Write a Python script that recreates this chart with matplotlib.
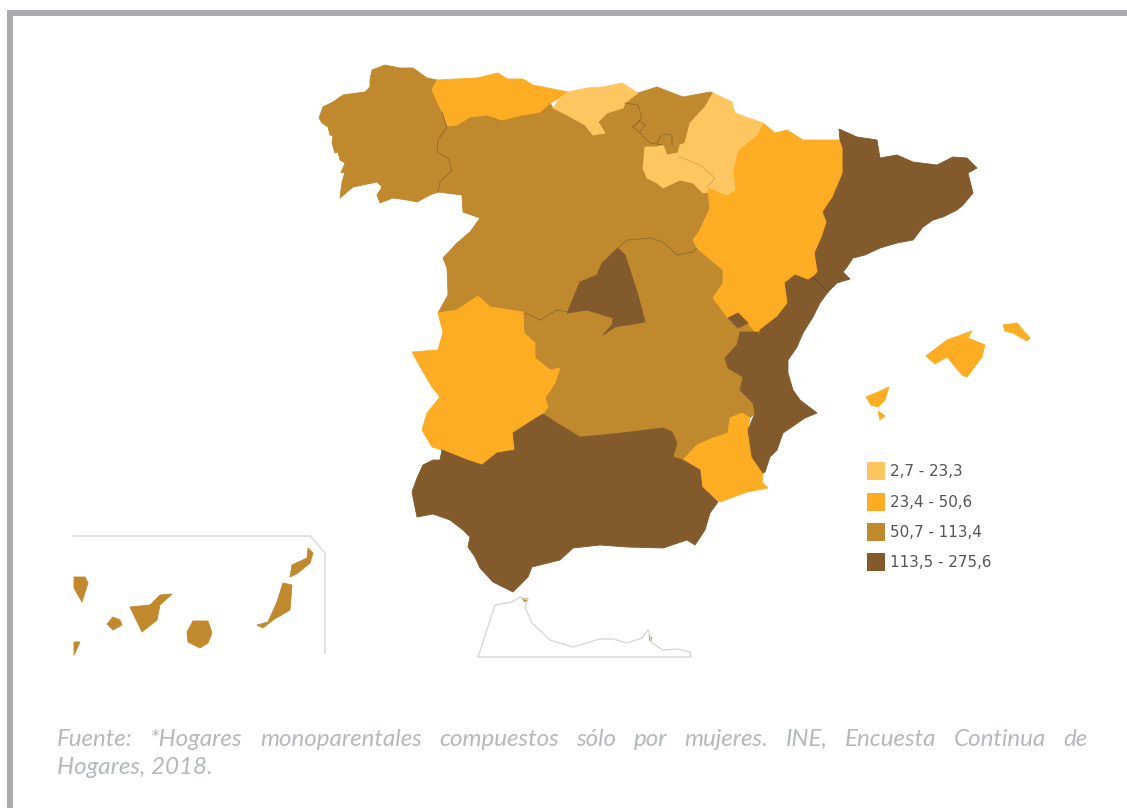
import matplotlib
matplotlib.use("Agg")
import matplotlib.pyplot as plt
from matplotlib.patches import Polygon, Rectangle

# Legend classes
legend_labels = ["2,7 - 23,3", "23,4 - 50,6", "50,7 - 113,4", "113,5 - 275,6"]
class_colors = ["#FEC660", "#FCAD23", "#C0892E", "#835A2B"]

source_lines = ["Fuente: *Hogares monoparentales compuestos sólo por mujeres. INE, Encuesta Continua de",
                "Hogares, 2018."]

# Region outlines (image coordinates)
galicia = [(385,65),(372,70),(370,80),(370,87),(365,92),(343,95),(333,102),(323,107),(319,118),(322,123),(328,127),(330,135),(333,136),(332,143),(335,153),(338,152),(340,160),(345,163),(341,173),(345,172),(342,182),(340,198),(353,187),(377,182),(382,187),(377,195),(380,203),(393,198),(407,200),(417,202),(430,195),(438,192),(440,182),(452,170),(448,158),(437,152),(438,140),(447,127),(442,112),(432,90),(437,80),(427,78),(413,68),(400,68),(390,66)]
asturias = [(432,90),(437,80),(477,78),(498,73),(507,79),(523,79),(533,85),(568,92),(560,98),(550,103),(540,112),(523,115),(502,120),(487,115),(470,117),(457,125),(448,126),(442,112)]
cantabria = [(568,92),(587,88),(603,87),(622,83),(638,93),(625,103),(623,108),(607,113),(598,122),(605,133),(593,135),(585,125),(567,115),(553,108),(560,98)]
pais_vasco = [(638,93),(657,87),(683,97),(710,92),(713,93),(705,107),(690,123),(685,143),(680,145),(678,153),(667,155),(663,145),(650,143),(640,133),(633,127),(642,118),(638,105),(625,103)]
navarra = [(713,93),(732,102),(735,113),(763,123),(757,135),(738,150),(733,170),(735,190),(727,195),(707,187),(715,178),(700,165),(680,157),(678,153),(680,145),(685,143),(690,123),(705,107)]
la_rioja = [(645,147),(657,147),(663,145),(667,155),(678,153),(680,157),(700,165),(715,178),(707,187),(708,192),(703,193),(693,183),(680,180),(663,188),(657,183),(647,178),(643,168)]
aragon = [(763,123),(775,133),(787,130),(803,140),(840,140),(843,148),(843,173),(833,197),(823,212),(827,222),(822,237),(815,253),(818,272),(808,280),(795,275),(785,283),(788,303),(777,317),(760,330),(759,337),(748,323),(738,313),(728,318),(713,298),(723,283),(723,270),(697,248),(693,240),(700,230),(710,208),(708,192),(707,187),(727,195),(735,190),(733,170),(738,150),(757,135)]
cataluna = [(839,129),(857,137),(877,140),(880,158),(897,155),(913,162),(937,165),(953,157),(967,158),(977,168),(968,173),(973,193),(963,205),(957,210),(943,217),(933,220),(923,227),(913,240),(897,243),(880,248),(865,255),(853,258),(847,267),(843,272),(850,279),(837,283),(828,292),(813,277),(818,272),(815,253),(822,237),(827,222),(823,212),(833,197),(843,173),(843,148),(840,140)]
valencia = [(795,275),(808,280),(813,277),(828,292),(820,303),(813,317),(803,333),(797,347),(788,360),(788,373),(793,390),(800,400),(817,413),(805,418),(783,433),(777,450),(770,457),(765,472),(763,473),(752,457),(748,430),(755,413),(753,403),(740,390),(743,377),(728,368),(725,358),(737,345),(740,332),(758,332),(759,337),(760,330),(777,317),(788,303),(785,283)]
ademuz = [(728,318),(738,313),(748,323),(738,328)]
murcia = [(742,413),(750,418),(748,430),(752,457),(763,473),(762,482),(768,488),(747,492),(720,502),(702,487),(700,470),(683,460),(697,445),(713,438),(728,433),(730,418)]
andalucia = [(442,450),(467,460),(482,465),(497,453),(515,450),(513,433),(530,422),(543,414),(560,425),(580,437),(603,435),(630,432),(663,428),(672,432),(677,443),(673,457),(683,460),(700,470),(702,487),(718,502),(710,513),(705,530),(695,545),(687,540),(663,548),(627,547),(600,545),(573,548),(560,560),(540,565),(532,567),(528,577),(522,583),(513,592),(493,582),(480,568),(475,557),(468,547),(470,537),(463,530),(450,520),(433,514),(417,517),(412,492),(417,478),(423,465),(433,460),(440,460)]
extremadura = [(478,296),(490,307),(523,312),(524,333),(535,343),(535,358),(550,370),(560,368),(555,383),(545,398),(548,407),(543,414),(530,422),(513,433),(515,450),(497,453),(482,465),(467,460),(442,450),(432,447),(422,430),(427,413),(440,397),(432,387),(422,370),(412,352),(438,350),(443,332),(438,313),(457,310)]
castilla_leon = [(448,126),(457,125),(470,117),(487,115),(502,120),(523,115),(540,112),(550,103),(553,108),(567,115),(585,125),(593,135),(605,133),(598,122),(607,113),(623,108),(625,103),(638,105),(642,118),(633,127),(640,133),(650,143),(663,145),(657,147),(645,147),(643,168),(647,178),(657,183),(663,188),(680,180),(693,183),(703,193),(708,192),(710,208),(700,230),(693,240),(697,248),(693,252),(677,255),(663,242),(650,238),(627,240),(618,248),(602,263),(597,275),(580,282),(567,312),(557,310),(540,320),(525,313),(523,312),(490,307),(478,296),(457,310),(438,313),(448,295),(447,268),(443,258),(457,243),(470,232),(480,218),(463,212),(462,195),(438,192),(440,182),(452,170),(448,158),(437,152),(438,140),(447,127)]
madrid = [(618,248),(625,255),(638,295),(645,322),(615,327),(603,335),(612,325),(613,318),(587,310),(567,313),(580,282),(597,275),(602,263)]
castilla_mancha = [(618,248),(627,240),(650,238),(663,242),(677,255),(693,252),(697,248),(723,270),(723,283),(713,298),(728,318),(738,328),(748,323),(758,332),(740,332),(737,345),(725,358),(728,368),(743,377),(740,390),(753,403),(755,413),(750,418),(742,413),(730,418),(728,433),(713,438),(697,445),(683,460),(673,457),(677,443),(672,432),(663,428),(630,432),(603,435),(580,437),(560,425),(543,414),(548,407),(545,398),(555,383),(560,368),(550,370),(535,358),(535,343),(524,333),(523,312),(525,313),(540,320),(557,310),(567,313),(587,310),(613,318),(612,325),(603,335),(615,327),(645,322),(638,295),(625,255)]
mallorca = [(926,356),(947,340),(972,331),(968,338),(985,345),(982,357),(967,377),(962,375),(947,357),(935,364)]
menorca = [(1003,325),(1017,323),(1030,338),(1027,341),(1013,333),(1005,331)]
ibiza = [(866,397),(878,392),(889,387),(885,400),(878,407),(871,405)]
formentera = [(878,411),(885,416),(880,420)]
lanzarote = [(308,548),(313,553),(310,563),(298,573),(290,577),(292,565),(307,558)]
fuerteventura = [(283,583),(292,585),(290,610),(273,620),(263,628),(257,625),(268,622),(277,602)]
gran_canaria = [(193,621),(208,621),(212,633),(208,643),(200,648),(188,642),(187,632)]
tenerife = [(130,607),(150,605),(160,595),(172,594),(160,605),(157,620),(142,632)]
gomera = [(113,617),(120,620),(122,625),(113,630),(107,624)]
la_palma = [(74,577),(85,577),(88,583),(82,602),(74,588)]
el_hierro = [(74,642),(80,642),(74,655)]
ceuta = [(522,598),(528,599),(525,602)]
melilla = [(649,636),(652,638),(650,641)]

regions = [
    (castilla_leon, 2), (castilla_mancha, 2), (galicia, 2), (pais_vasco, 2),
    (asturias, 1), (aragon, 1), (extremadura, 1), (murcia, 1),
    (cantabria, 0), (navarra, 0), (la_rioja, 0),
    (cataluna, 3), (valencia, 3), (ademuz, 3), (andalucia, 3), (madrid, 3),
    (mallorca, 1), (menorca, 1), (ibiza, 1), (formentera, 1),
    (lanzarote, 2), (fuerteventura, 2), (gran_canaria, 2), (tenerife, 2),
    (gomera, 2), (la_palma, 2), (el_hierro, 2), (ceuta, 2), (melilla, 2),
]

# Thin boundaries between regions of the same class
mid_borders = [
    [(438,192),(440,182),(452,170),(448,158),(437,152),(438,140),(447,127),(442,112)],
    [(618,248),(627,240),(650,238),(663,242),(677,255),(693,252),(697,248)],
    [(525,313),(540,320),(557,310),(567,312)],
    [(625,103),(638,105),(642,118),(633,127),(640,133),(650,143),(663,145)],
    [(633,127),(640,121),(645,125),(640,132)],
    [(657,143),(662,134),(672,135),(672,145)],
]
dark_borders = [[(813,277),(828,292)]]
light_borders = [[(680,157),(700,165),(715,178),(707,187)]]

canary_frame = [(74,536),(310,536),(325,553),(325,653)]
morocco_frame = [(478,657),(495,605),(512,602),(520,597),(528,600),(525,607),(532,623),(550,640),(573,647),(600,639),(613,639),(627,643),(642,638),(648,630),(652,643),(663,650),(677,649),(690,652),(691,657),(478,657)]

fig = plt.figure(figsize=(11.27, 8.08), dpi=100)
ax = fig.add_axes([0, 0, 1, 1])
ax.set_xlim(0, 1127)
ax.set_ylim(808, 0)
ax.axis("off")

# page frame
ax.add_patch(Rectangle((7, 10), 1120, 6, fc="#ABABAF", ec="none"))
ax.add_patch(Rectangle((7, 10), 6, 798, fc="#ABABAF", ec="none"))

ax.plot(*zip(*canary_frame), color="#E0E0E0", lw=1.3)
ax.plot(*zip(*morocco_frame), color="#D8D8D4", lw=1.0)

for outline, cls in regions:
    ax.add_patch(Polygon(outline, closed=True, fc=class_colors[cls],
                         ec=class_colors[cls], lw=0.6, joinstyle="round"))

for line in mid_borders:
    ax.plot(*zip(*line), color="#8F6A2B", lw=0.6)
for line in dark_borders:
    ax.plot(*zip(*line), color="#6B4A25", lw=0.6)
for line in light_borders:
    ax.plot(*zip(*line), color="#D9A850", lw=0.7)

# legend
for y, lab, col in zip([462, 493, 523, 553], legend_labels, class_colors):
    ax.add_patch(Rectangle((867, y), 18, 18, fc=col, ec="none"))
    ax.text(890, y + 9.5, lab, fontsize=10.9, color="#555555", va="center",
            ha="left", family="DejaVu Sans")

# source: first line justified to the text column, second line flush left
left, right = 57, 1088
style = dict(fontsize=17.4, style="italic", color="#B4B9BB", va="center",
             ha="left", family="Lato")
renderer = fig.canvas.get_renderer()
words = source_lines[0].split(" ")
items = [ax.text(left, 739, w, **style) for w in words]
widths = [t.get_window_extent(renderer).width for t in items]
gap = (right - left - sum(widths)) / (len(words) - 1)
x = left
for t, w in zip(items, widths):
    t.set_x(x)
    x += w + gap
ax.text(left, 767, source_lines[1], **style)

fig.savefig("out.png", dpi=100)
